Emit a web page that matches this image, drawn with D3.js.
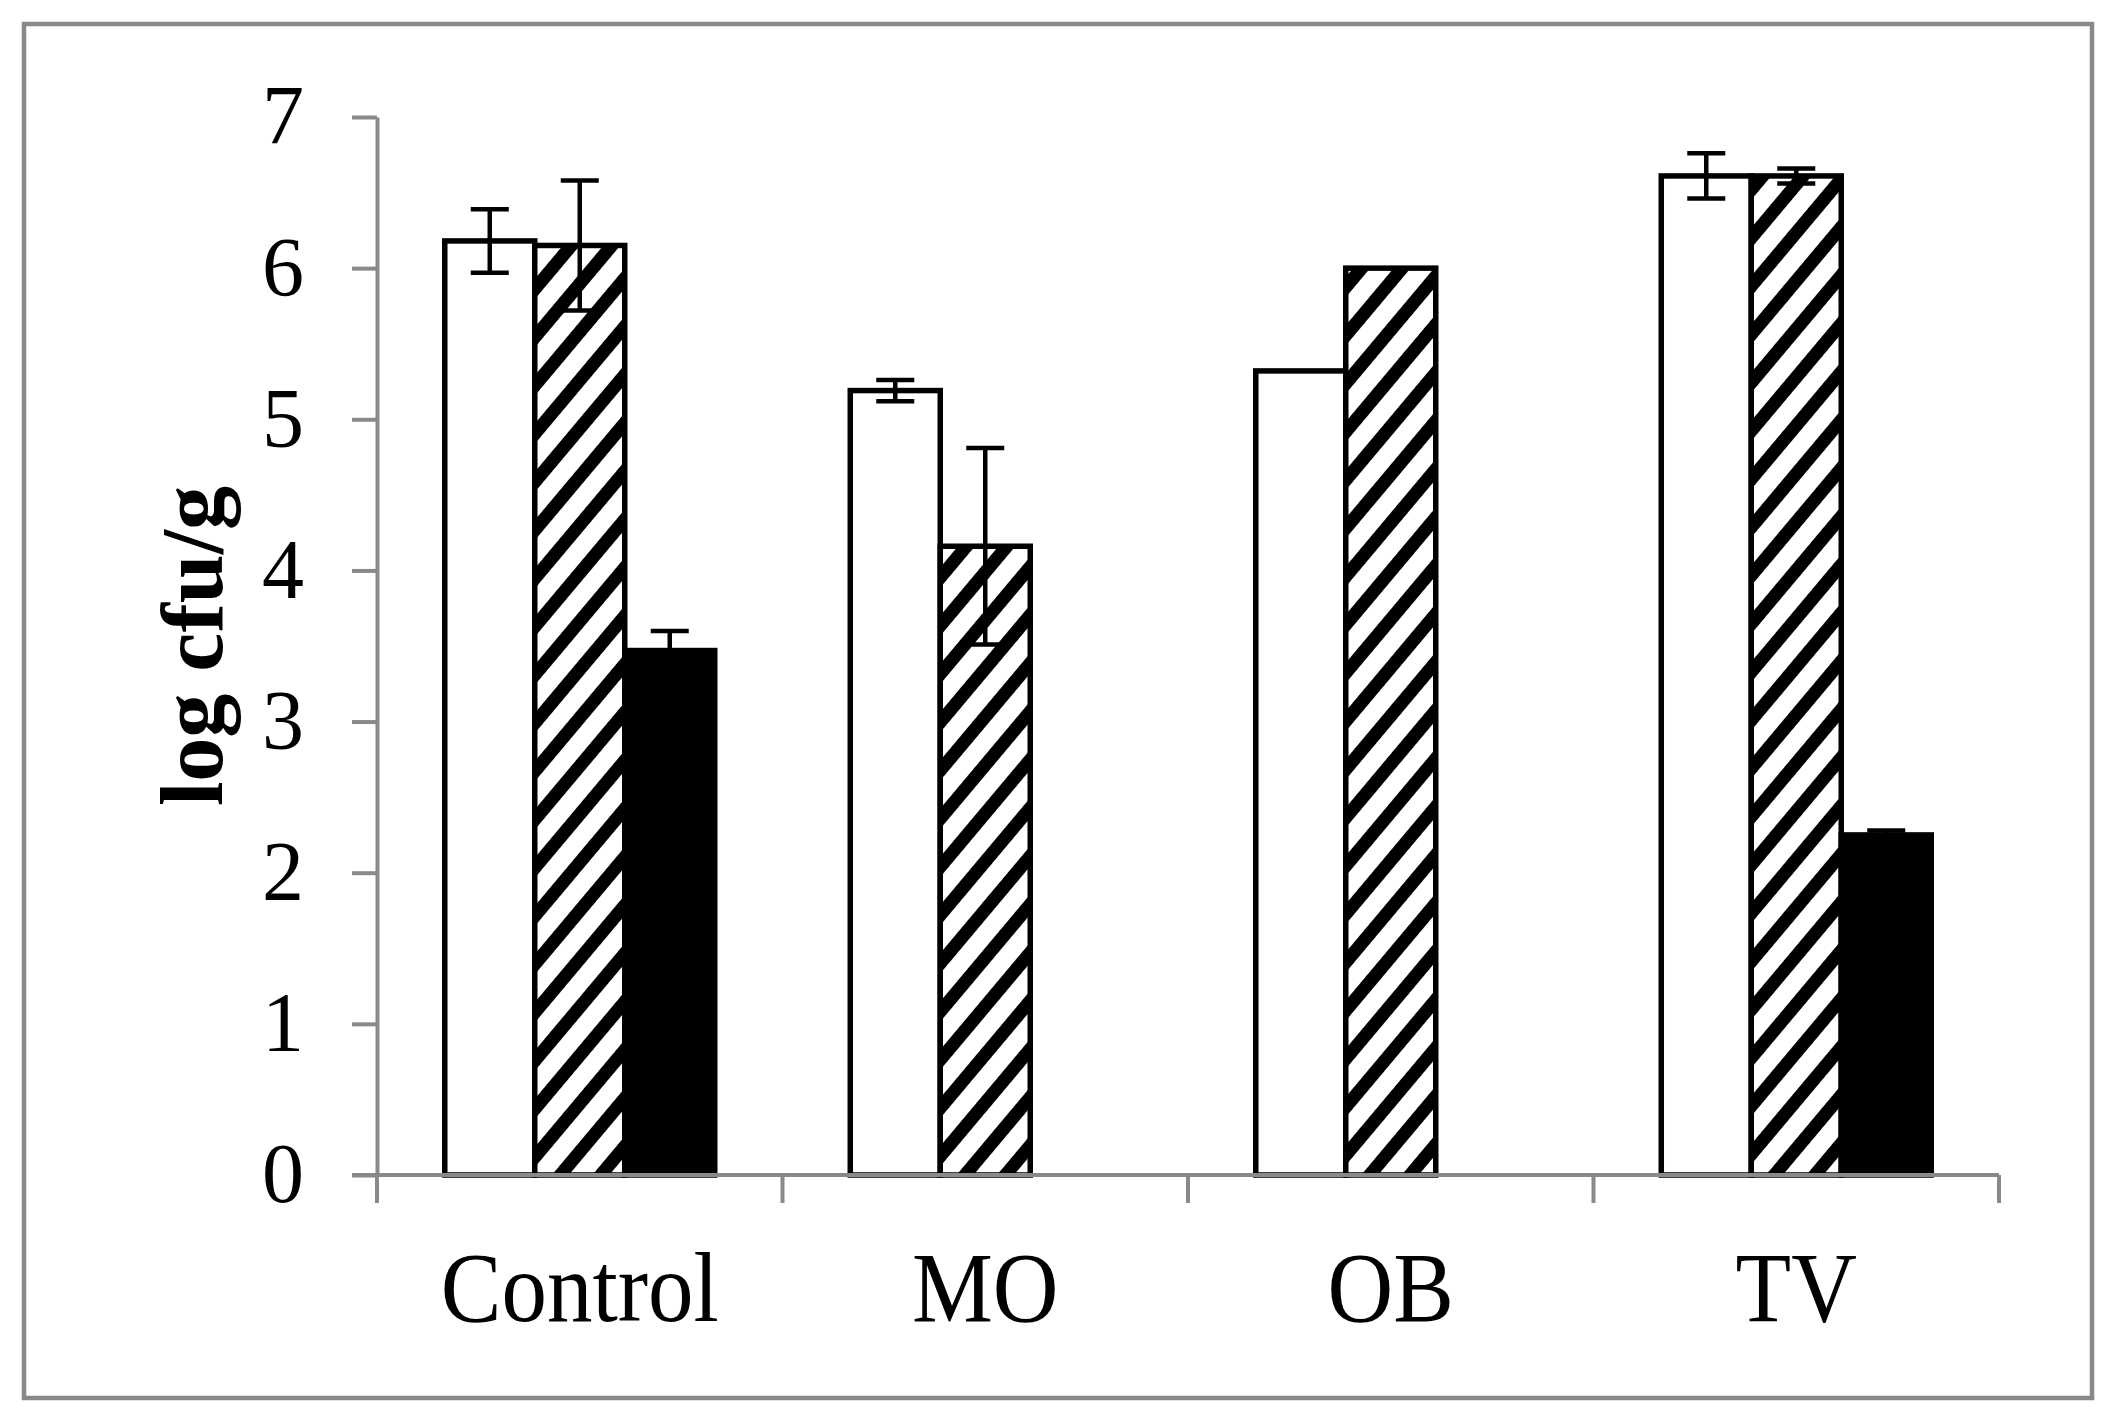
<!DOCTYPE html>
<html>
<head>
<meta charset="utf-8">
<script src="https://cdn.jsdelivr.net/npm/d3@7"></script>
<style>
  body { margin: 0; background: #fff; }
  svg text { font-family: "Liberation Serif", "Times New Roman", serif; }
</style>
</head>
<body>
<div></div>
<script>
const width = 2119, height = 1424

// data
const categories = ["Control", "MO", "OB", "TV"]
const series = ["white", "hatched", "black"]
const whiteValues   = [6.18, 5.19, 5.32, 6.61]
const whiteErrors   = [0.21, 0.07, 0, 0.15]
const hatchedValues = [6.15, 4.16, 6.00, 6.61]
const hatchedErrors = [0.43, 0.65, 0, 0.05]
const blackValues   = [3.47, null, null, 2.25]
const blackErrors   = [0.13, null, null, 0.03]
const yTicks = [0, 1, 2, 3, 4, 5, 6, 7]

const rows = []
categories.forEach((c, i) => {
  rows.push({cat: c, s: "white", v: whiteValues[i], e: whiteErrors[i]})
  rows.push({cat: c, s: "hatched", v: hatchedValues[i], e: hatchedErrors[i]})
  if (blackValues[i] != null) rows.push({cat: c, s: "black", v: blackValues[i], e: blackErrors[i]})
})

const axisColor = "#898989"

const svg = d3.select("div")
  .append("svg")
  .attr("xmlns", "http://www.w3.org/2000/svg")
  .attr("width", width)
  .attr("height", height)

// hatch pattern (wide upward diagonal)
const defs = svg.append("defs")
const pat = defs.append("pattern")
  .attr("id", "hatch")
  .attr("patternUnits", "userSpaceOnUse")
  .attr("width", 20)
  .attr("height", 31)
  .attr("patternTransform", "rotate(-50)")
pat.append("rect").attr("width", 20).attr("height", 31).attr("fill", "#fff")
pat.append("rect").attr("width", 20).attr("height", 13).attr("fill", "#000")

// outer frame
svg.append("rect")
  .attr("x", 24).attr("y", 24)
  .attr("width", 2068).attr("height", 1374)
  .attr("fill", "#fff")
  .attr("stroke", axisColor)
  .attr("stroke-width", 4.5)

// scales
const x0 = d3.scaleBand().domain(categories).range([377, 1999]).padding(0)
const x1 = d3.scaleBand().domain(series).range([0, x0.bandwidth()]).paddingInner(0).paddingOuter(0.753)
const y = d3.scaleLinear().domain([0, 7]).range([1175, 117])

const fills = {white: "#fff", hatched: "url(#hatch)", black: "#000"}

// bars
svg.selectAll().data(rows).enter().append("rect")
  .attr("x", d => x0(d.cat) + x1(d.s))
  .attr("y", d => y(d.v))
  .attr("width", x1.bandwidth())
  .attr("height", d => y(0) - y(d.v))
  .attr("fill", d => fills[d.s])
  .attr("stroke", "#000")
  .attr("stroke-width", 5.5)

// error bars
const errRows = rows.filter(d => d.e > 0)
const cx = d => x0(d.cat) + x1(d.s) + x1.bandwidth() / 2
svg.selectAll().data(errRows).enter().append("line")
  .attr("x1", cx).attr("x2", cx)
  .attr("y1", d => y(d.v + d.e)).attr("y2", d => y(d.v - d.e))
  .attr("stroke", "#000").attr("stroke-width", 4.5)
svg.selectAll().data(errRows.flatMap(d => [d.v + d.e, d.v - d.e].map(t => ({d, t})))).enter().append("line")
  .attr("x1", p => cx(p.d) - 19).attr("x2", p => cx(p.d) + 19)
  .attr("y1", p => y(p.t)).attr("y2", p => y(p.t))
  .attr("stroke", "#000").attr("stroke-width", 4.5)

// y axis
const yAxis = svg.append("g")
  .attr("transform", "translate(377,0)")
  .call(d3.axisLeft(y).tickValues(yTicks).tickFormat(d3.format("d"))
    .tickSize(25).tickPadding(48).tickSizeOuter(0))
yAxis.select(".domain").attr("stroke", axisColor).attr("stroke-width", 4)
yAxis.selectAll(".tick line").attr("stroke", axisColor).attr("stroke-width", 4)
yAxis.selectAll(".tick text")
  .attr("font-family", "Liberation Serif, Times New Roman, serif")
  .attr("font-size", 84)
  .attr("fill", "#000")

// x axis
const xAxis = svg.append("g").attr("transform", `translate(0,${y(0)})`)
xAxis.append("line")
  .attr("x1", 352).attr("x2", 1999)
  .attr("stroke", axisColor).attr("stroke-width", 4)
xAxis.selectAll().data(categories.map(c => x0(c)).concat([x0.range()[1]])).enter().append("line")
  .attr("x1", d => d).attr("x2", d => d)
  .attr("y1", 0).attr("y2", 28)
  .attr("stroke", axisColor).attr("stroke-width", 4)
xAxis.selectAll().data(categories).enter().append("text")
  .attr("transform", d => `translate(${x0(d) + x0.bandwidth() / 2},146) scale(1,1.1)`)
  .attr("text-anchor", "middle")
  .attr("font-size", 91)
  .attr("fill", "#000")
  .text(d => d)

// y axis title
svg.append("text")
  .attr("transform", "translate(222,646) rotate(-90)")
  .attr("text-anchor", "middle")
  .attr("font-size", 88)
  .attr("font-weight", "bold")
  .attr("fill", "#000")
  .text("log cfu/g")
</script>
</body>
</html>
